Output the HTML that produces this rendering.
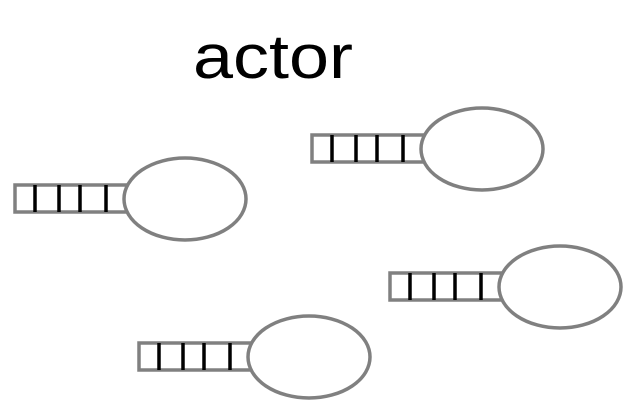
<!DOCTYPE html>
<html><head><style>body{margin:0;background:#fff}svg{display:block}</style></head><body>
<svg width="639" height="405" xmlns="http://www.w3.org/2000/svg">
<text x="193" y="78" textLength="160" lengthAdjust="spacingAndGlyphs" font-family="Liberation Sans, sans-serif" font-size="62" fill="#000">actor</text>
<g>
<rect x="15" y="185" width="112" height="27" fill="#fff" stroke="#808080" stroke-width="3.5"/>
<g stroke="#000" stroke-width="3.5"><line x1="35" y1="185" x2="35" y2="212"/><line x1="59" y1="185" x2="59" y2="212"/><line x1="80" y1="185" x2="80" y2="212"/><line x1="106" y1="185" x2="106" y2="212"/></g>
<ellipse cx="185" cy="199" rx="61" ry="41" fill="#fff" stroke="#808080" stroke-width="3.5"/>
</g>
<g transform="translate(297,-50)">
<rect x="15" y="185" width="112" height="27" fill="#fff" stroke="#808080" stroke-width="3.5"/>
<g stroke="#000" stroke-width="3.5"><line x1="35" y1="185" x2="35" y2="212"/><line x1="59" y1="185" x2="59" y2="212"/><line x1="80" y1="185" x2="80" y2="212"/><line x1="106" y1="185" x2="106" y2="212"/></g>
<ellipse cx="185" cy="199" rx="61" ry="41" fill="#fff" stroke="#808080" stroke-width="3.5"/>
</g>
<g transform="translate(375,88)">
<rect x="15" y="185" width="112" height="27" fill="#fff" stroke="#808080" stroke-width="3.5"/>
<g stroke="#000" stroke-width="3.5"><line x1="35" y1="185" x2="35" y2="212"/><line x1="59" y1="185" x2="59" y2="212"/><line x1="80" y1="185" x2="80" y2="212"/><line x1="106" y1="185" x2="106" y2="212"/></g>
<ellipse cx="185" cy="199" rx="61" ry="41" fill="#fff" stroke="#808080" stroke-width="3.5"/>
</g>
<g transform="translate(124,158)">
<rect x="15" y="185" width="112" height="27" fill="#fff" stroke="#808080" stroke-width="3.5"/>
<g stroke="#000" stroke-width="3.5"><line x1="35" y1="185" x2="35" y2="212"/><line x1="59" y1="185" x2="59" y2="212"/><line x1="80" y1="185" x2="80" y2="212"/><line x1="106" y1="185" x2="106" y2="212"/></g>
<ellipse cx="185" cy="199" rx="61" ry="41" fill="#fff" stroke="#808080" stroke-width="3.5"/>
</g>
</svg>
</body></html>
